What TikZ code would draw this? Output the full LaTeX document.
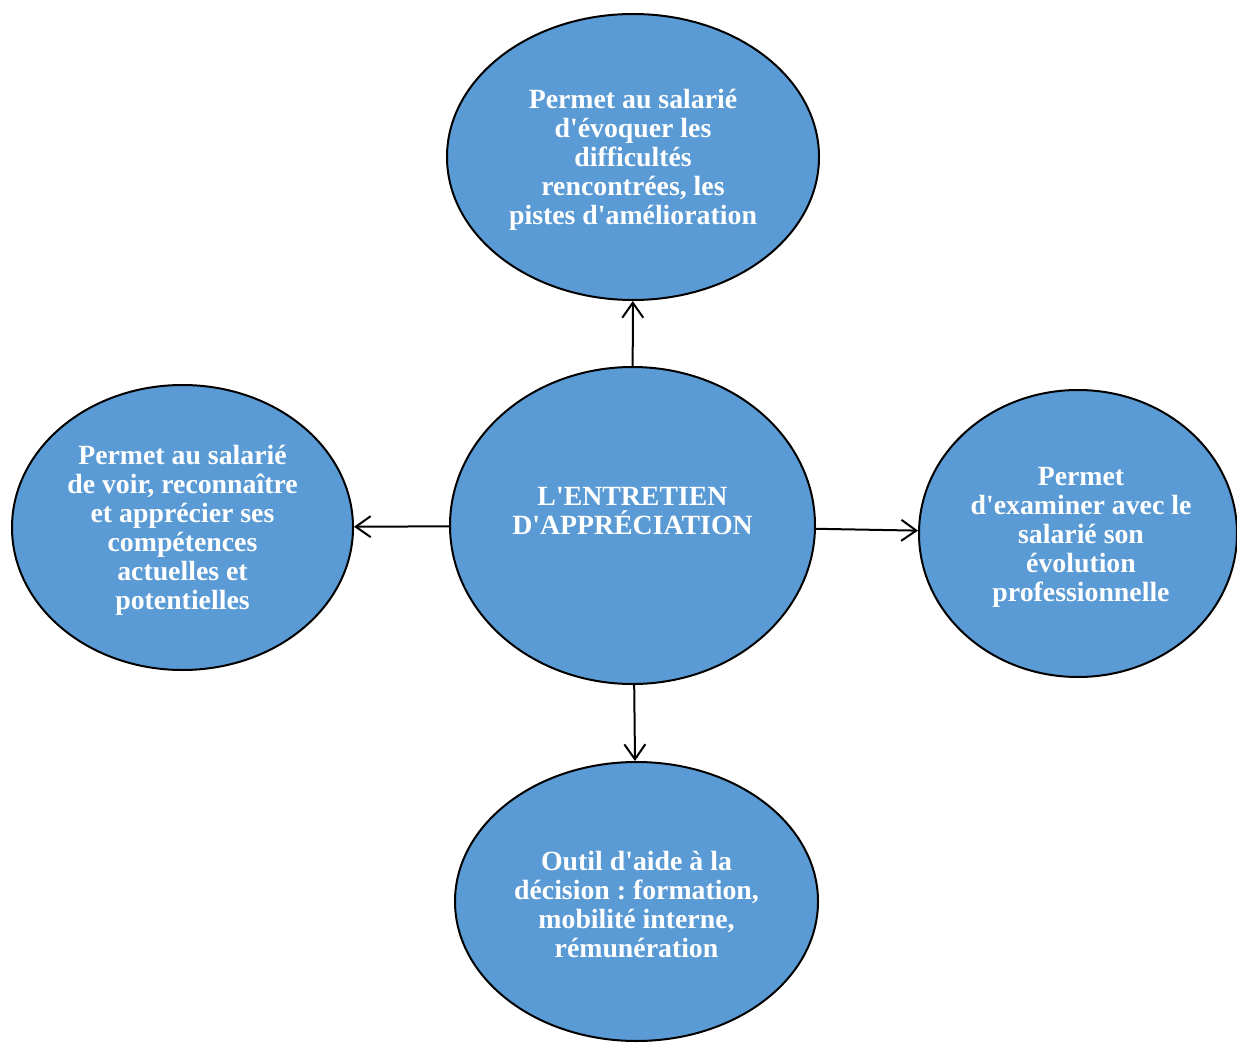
\documentclass[tikz,border=0pt]{standalone}
\usepackage{fontspec}
\setmainfont{Liberation Serif}[Ligatures=TeXOff]
\usetikzlibrary{shapes.geometric,arrows.meta}
\definecolor{bubble}{RGB}{91,155,213}
\tikzset{
  bubble/.style={ellipse, draw=black, line width=2pt, fill=bubble, inner sep=0pt},
  caption/.style={text=white, font=\fontsize{27.8}{29}\selectfont\bfseries\frenchspacing, align=center, inner sep=0pt},
  link/.style={line width=2pt, -{Straight Barb[length=15pt,width=21pt,line width=2pt]}}
}
\begin{document}
\begin{tikzpicture}[x=1pt,y=-1pt]
\useasboundingbox (0,0) rectangle (1237,1043);

% central topic and the four surrounding bubbles
\node[bubble, minimum width=365pt, minimum height=317pt] (c) at (632.5,525.5) {};
\node[caption] (ct) at (632.5,511.5) {L'ENTRETIEN\\D'APPRÉCIATION};

\node[bubble, minimum width=372pt, minimum height=286pt] (t) at (633,157) {};
\node[caption] (tt) at (633,159.5) {Permet au salarié\\d'évoquer les\\difficultés\\rencontrées, les\\pistes d'amélioration};

\node[bubble, minimum width=341pt, minimum height=285pt] (l) at (182.5,527.5) {};
\node[caption] (lt) at (182.5,530) {Permet au salarié\\de voir, reconnaître\\et apprécier ses\\compétences\\actuelles et\\potentielles};

\node[bubble, minimum width=318pt, minimum height=287pt] (r) at (1078,533.5) {};
\node[caption] (rt) at (1081,537) {Permet\\d'examiner avec le\\salarié son\\évolution\\professionnelle};

\node[bubble, minimum width=363pt, minimum height=279pt] (b) at (636.5,901.5) {};
\node[caption] (bt) at (636.5,904.5) {Outil d'aide à la\\décision : formation,\\mobilité interne,\\rémunération};

% arrows from the central topic
\draw[link] (c) -- (t);
\draw[link] (c) -- (l);
\draw[link] (c) -- (r);
\draw[link] (c) -- (b);
\end{tikzpicture}
\end{document}
